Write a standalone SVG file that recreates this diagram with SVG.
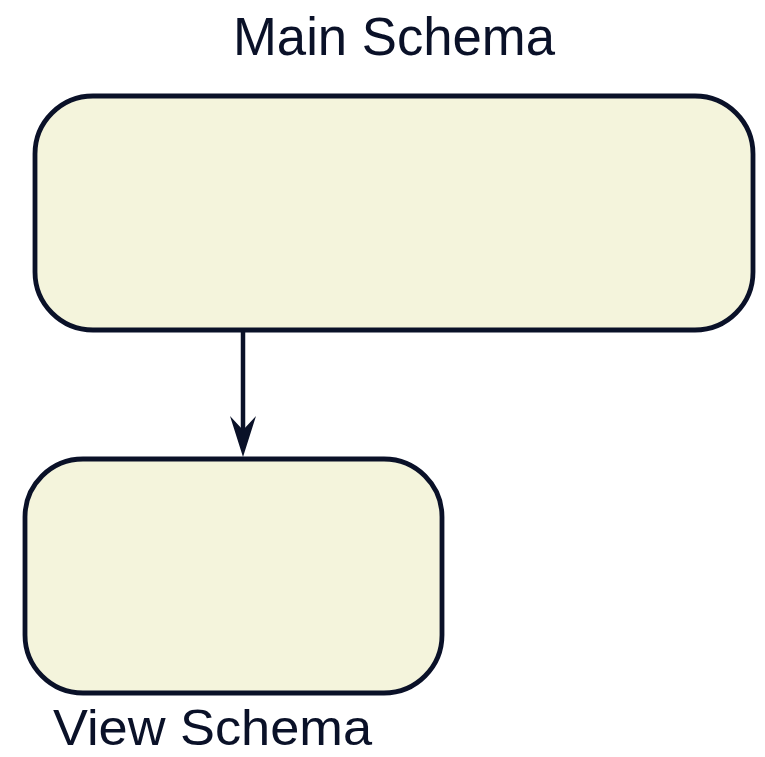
<svg xmlns="http://www.w3.org/2000/svg" width="765" height="757" viewBox="0 0 765 757">
<style>
.box{fill:#f4f4dc;stroke:#0a1128;stroke-width:4.8}
.lbl{font-family:"Liberation Sans","DejaVu Sans",sans-serif;font-size:54px;fill:#0a1128}
.edge{stroke:#0a1128;stroke-width:4.5;fill:none}
</style>
<g id="main-schema">
<rect class="box" x="35" y="96" width="718" height="234" rx="58" ry="58"/>
<text class="lbl" x="233" y="55" textLength="322" lengthAdjust="spacingAndGlyphs">Main Schema</text>
</g>
<g id="view-schema">
<rect class="box" x="25" y="459" width="417" height="234" rx="58" ry="58"/>
<text class="lbl" x="53" y="745" font-size="50" style="font-size:50px" textLength="319" lengthAdjust="spacingAndGlyphs">View Schema</text>
</g>
<g id="connectors">
<line class="edge" x1="243" y1="332" x2="243" y2="445"/>
<path d="M243 457 L230 416 L243 430 L256 416 Z" fill="#0a1128"/>
</g>
</svg>
